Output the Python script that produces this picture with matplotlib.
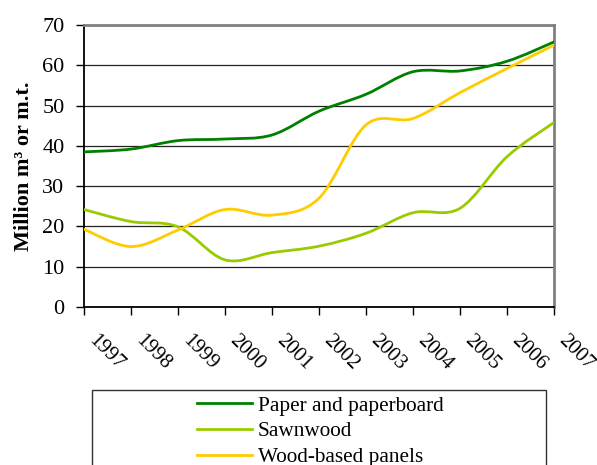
import matplotlib
matplotlib.use("Agg")
import matplotlib.pyplot as plt
import matplotlib.transforms as mtransforms
from matplotlib.path import Path
from matplotlib.patches import PathPatch, Rectangle
from matplotlib.lines import Line2D
import numpy as np

years = ["1997", "1998", "1999", "2000", "2001", "2002", "2003", "2004", "2005", "2006", "2007"]
paper = [38.5, 39.2, 41.3, 41.7, 42.7, 48.6, 52.8, 58.4, 58.6, 61.0, 65.8]
sawnwood = [24.2, 21.2, 19.9, 11.7, 13.5, 15.1, 18.3, 23.4, 24.5, 37.3, 45.8]
panels = [19.3, 15.0, 19.1, 24.2, 22.8, 27.0, 45.2, 46.8, 53.2, 59.2, 65.0]
series_names = ["Paper and paperboard", "Sawnwood", "Wood-based panels"]
colors = ["#008000", "#99CC00", "#FFCC00"]

plt.rcParams['font.family'] = ['Liberation Serif', 'DejaVu Serif']

fig = plt.figure(figsize=(5.97, 4.65), dpi=100)
ax = fig.add_axes([84/597, 1-307/465, 470/597, 282/465])

def smooth_path(xs, ys):
    pts = np.column_stack([xs, ys]).astype(float)
    n = len(pts)
    verts = [pts[0]]
    codes = [Path.MOVETO]
    for i in range(n-1):
        p0 = pts[i-1] if i > 0 else pts[i]
        p1 = pts[i]
        p2 = pts[i+1]
        p3 = pts[i+2] if i+2 < n else pts[i+1]
        c1 = p1 + (p2 - p0)/6.0
        c2 = p2 - (p3 - p1)/6.0
        verts += [c1, c2, p2]
        codes += [Path.CURVE4]*3
    return Path(verts, codes)

xpos = np.arange(len(years))
handles = []
for vals, col, name in zip([paper, sawnwood, panels], colors, series_names):
    patch = PathPatch(smooth_path(xpos, vals), fill=False, edgecolor=col, lw=2.0,
                      capstyle='round', joinstyle='round', zorder=3)
    ax.add_patch(patch)
    handles.append(Line2D([], [], color=col, lw=2.0, label=name))

ax.set_xlim(0, len(years)-1)
ax.set_ylim(0, 70)
ax.set_yticks(range(0, 71, 10))
ax.yaxis.grid(True, color='#222222', lw=0.9)
ax.set_axisbelow(True)
ax.set_xticks(xpos)
ax.tick_params(axis='x', direction='out', length=6, width=1, pad=11, colors='black')
ax.tick_params(axis='y', direction='out', length=6, width=1, pad=8, labelsize=16)
ax.set_xticklabels(years, rotation=-45, ha='left', va='top', rotation_mode='anchor', fontsize=15)
offset = mtransforms.ScaledTranslation(14/100, 0, fig.dpi_scale_trans)
for lab in ax.get_xticklabels():
    lab.set_transform(lab.get_transform() + offset)

for s in ['left', 'bottom']:
    ax.spines[s].set_color('black')
    ax.spines[s].set_linewidth(1.3)
for s in ['top', 'right']:
    ax.spines[s].set_color('#808080')
    ax.spines[s].set_linewidth(2.0)

fig.text(24/597, 1-166/465, "Million m³ or m.t.", rotation=90, ha='center', va='center',
         fontsize=16, fontweight='bold')

# legend box
fig.patches.append(Rectangle((92.5/597, -0.1), (546-92.5)/597, 1-390/465+0.1,
                             transform=fig.transFigure, fill=False, edgecolor='#333333', lw=1.0))
leg = fig.legend(handles=handles, loc='upper center', bbox_to_anchor=(320/597, 1-396/465),
                 frameon=False, fontsize=15.3, handlelength=2.6, handletextpad=0.28,
                 labelspacing=0.27, borderaxespad=0, borderpad=0)

fig.savefig("out.png", dpi=100)
